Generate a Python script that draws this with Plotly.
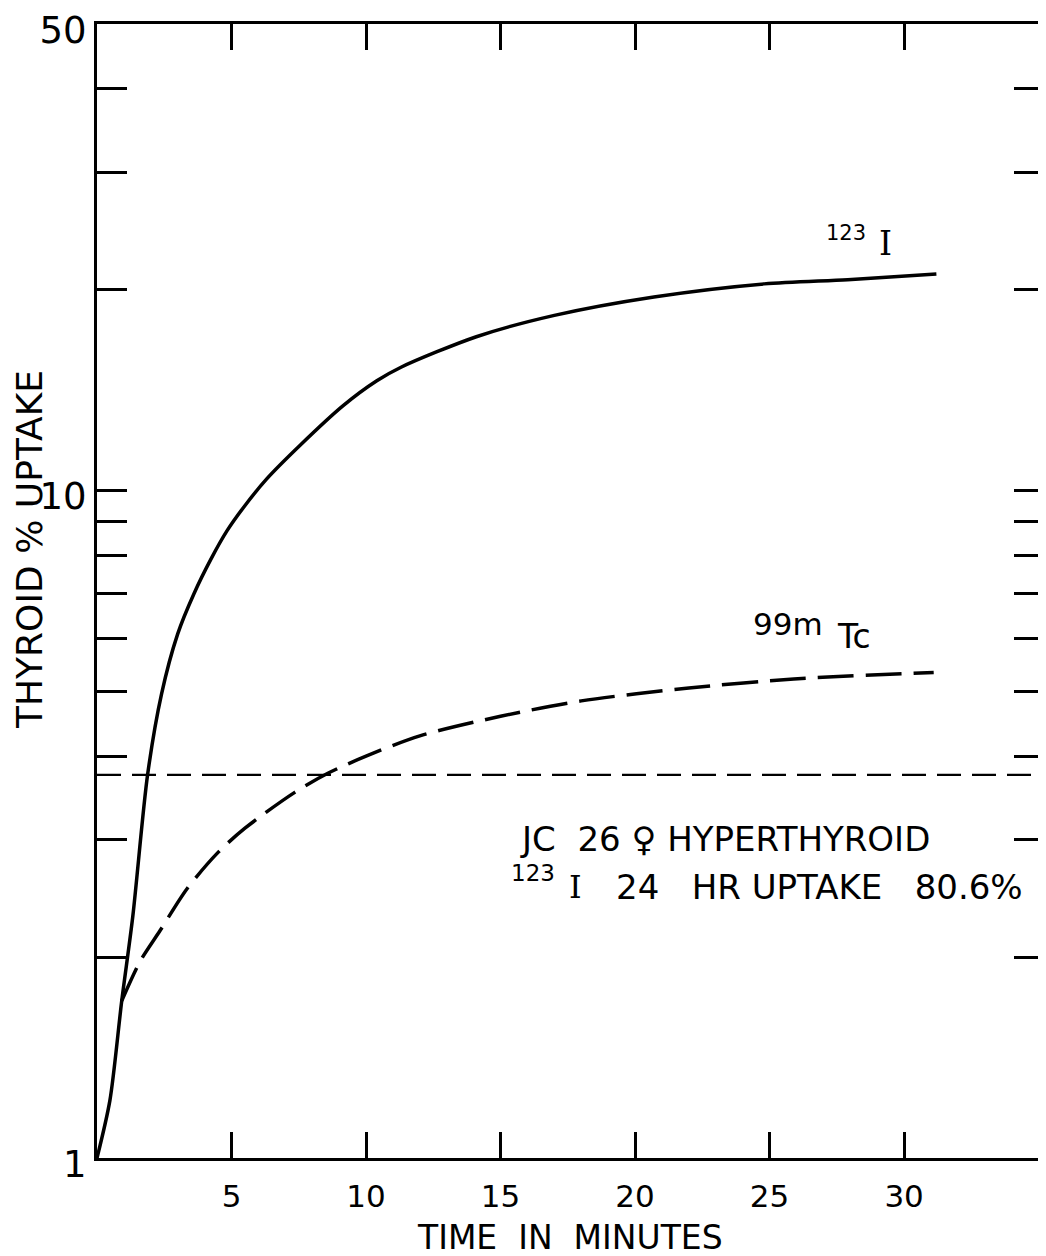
import math
import plotly.graph_objects as go

# ---- data ----
TIME_I123 = [0, 0.48, 0.92, 1.33, 1.88, 2.4, 3.0, 3.6, 4.24, 4.83, 5.46, 6.3, 7.56, 9.15, 10.4, 11.3, 14.1, 17.0, 20.7, 24.8, 27.9, 31.2]
UPTAKE_I123 = [1.0, 1.22, 1.72, 2.3, 3.75, 4.96, 6.1, 7.0, 7.9, 8.7, 9.45, 10.4, 11.7, 13.4, 14.6, 15.3, 17.0, 18.3, 19.5, 20.4, 20.7, 21.1]

TIME_TC99M = [0.92, 1.6, 2.34, 3.34, 4.5, 5.5, 7.35, 8.58, 10.0, 12.0, 15.0, 18.0, 22.0, 25.9, 31.1]
UPTAKE_TC99M = [1.72, 1.97, 2.19, 2.53, 2.87, 3.12, 3.53, 3.77, 4.0, 4.29, 4.59, 4.84, 5.06, 5.22, 5.34]

REF_TIME = [0, 35.2]
REF_LEVEL = 3.75

X_RANGE = [0, 35.2]
Y_RANGE = [1, 50]
X_TICKS = [5, 10, 15, 20, 25, 30]
X_TICK_TEXT = ["5", "10", "15", "20", "25", "30"]
Y_TICKS = [1, 2, 3, 4, 5, 6, 7, 8, 9, 10, 20, 30, 40, 50]
Y_TICK_TEXT = ["1", "", "", "", "", "", "", "", "", "10", "", "", "", "50"]

# page geometry (the page body adds an 8px offset)
OFF = 8
PAGE_W, PAGE_H = 1046, 1256
W, H = PAGE_W - OFF, PAGE_H - OFF
PLOT_L, PLOT_R, PLOT_T, PLOT_B = 97, 1044, 24, 1158  # in page pixels
L = PLOT_L - OFF
R = W - (PLOT_R - OFF)
T = PLOT_T - OFF
B = H - (PLOT_B - OFF)
FONT = "DejaVu Sans"
SERIF = "DejaVu Serif"
NB = "\u00a0"


def px(x):
    return (x - PLOT_L) / (PLOT_R - PLOT_L)


def py(y):
    return (PLOT_B - y) / (PLOT_B - PLOT_T)


fig = go.Figure()
fig.add_trace(go.Scatter(x=REF_TIME, y=[REF_LEVEL, REF_LEVEL], mode="lines",
                         line=dict(color="black", width=2.2, dash="24px,11px"),
                         showlegend=False, hoverinfo="skip"))
fig.add_trace(go.Scatter(x=TIME_TC99M, y=UPTAKE_TC99M, mode="lines",
                         line=dict(color="black", width=3.5, dash="36px,12px", shape="spline", smoothing=0.8),
                         showlegend=False))
fig.add_trace(go.Scatter(x=TIME_I123, y=UPTAKE_I123, mode="lines",
                         line=dict(color="black", width=3.5, shape="spline", smoothing=0.8),
                         showlegend=False))

annos = [
    dict(text="123", x=px(846), y=py(233), size=21, font=FONT),
    dict(text="I", x=px(885), y=py(243), size=33, font=SERIF),
    dict(text="99m", x=px(788), y=py(624), size=31, font=FONT),
    dict(text="Tc", x=px(854), y=py(636), size=33, font=FONT),
    dict(text=f"JC{NB}{NB}26{NB}\u2640{NB}HYPERTHYROID", x=px(725), y=py(839), size=34, font=FONT),
    dict(text="123", x=px(533), y=py(873), size=23, font=FONT),
    dict(text="I", x=px(575), y=py(887), size=32, font=SERIF),
    dict(text=f"24{NB}{NB}{NB}HR{NB}UPTAKE{NB}{NB}{NB}80.6%", x=px(819), y=py(887), size=34, font=FONT),
    dict(text=f"TIME{NB}{NB}IN{NB}{NB}MINUTES", x=px(570), y=py(1237), size=33, font=FONT),
]
layout_annos = []
for a in annos:
    layout_annos.append(dict(text=a["text"], x=a["x"], y=a["y"], xref="paper", yref="paper",
                             xanchor="center", yanchor="middle", showarrow=False,
                             font=dict(family=a["font"], size=a["size"], color="black")))
layout_annos.append(dict(text="THYROID % UPTAKE", x=px(29), y=py(550), xref="paper", yref="paper",
                         xanchor="center", yanchor="middle", showarrow=False, textangle=-90,
                         font=dict(family=FONT, size=36, color="black")))

fig.update_layout(
    width=W, height=H, autosize=False,
    margin=dict(l=L, r=R, t=T, b=B, pad=0),
    paper_bgcolor="white", plot_bgcolor="white",
    annotations=layout_annos,
    xaxis=dict(range=X_RANGE, showgrid=False, zeroline=False, showline=True, linecolor="black", linewidth=3,
               mirror="ticks", ticks="inside", ticklen=26, tickwidth=3, tickcolor="black",
               tickvals=X_TICKS, ticktext=X_TICK_TEXT, ticklabelstandoff=9, automargin=False,
               ticklabeloverflow="allow",
               tickfont=dict(family=FONT, size=31, color="black")),
    yaxis=dict(type="log", range=[math.log10(Y_RANGE[0]), math.log10(Y_RANGE[1])], showgrid=False, zeroline=False,
               showline=True, linecolor="black", linewidth=3, mirror="ticks", ticks="inside", ticklen=30,
               tickwidth=3, tickcolor="black", tickvals=Y_TICKS, ticktext=Y_TICK_TEXT, automargin=False,
               ticklabeloverflow="allow", ticklabelshift=6,
               tickfont=dict(family=FONT, size=37, color="black")),
)

fig.write_html("out.html")
